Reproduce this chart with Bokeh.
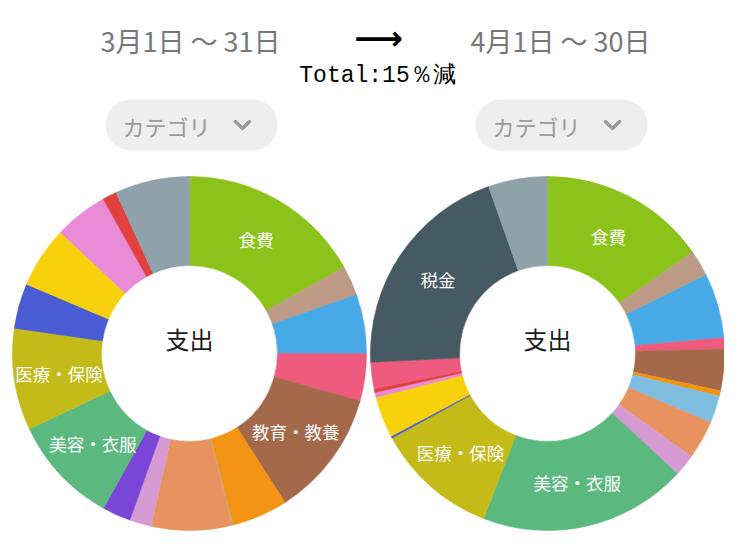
import math
from bokeh.plotting import figure
from bokeh.models import Range1d, ColumnDataSource, BoxAnnotation
from bokeh.core.properties import value
from bokeh.embed import file_html
from bokeh.resources import INLINE

# ---------------- data (shares in %, clockwise from 12 o'clock) ----------------
march_names = ["食費", "日用雑貨", "交通", "交際費", "教育・教養", "エンタメ", "通信",
               "水道・光熱", "住まい", "趣味", "美容・衣服", "医療・保険", "自動車",
               "子ども", "ペット", "大型出費", "その他"]
march_values = [16.9, 2.7, 5.4, 4.3, 11.6, 5.1, 0.15, 7.3, 2.0, 2.6, 9.9, 9.3, 4.1,
                5.6, 4.9, 1.3, 6.8]
march_colors = ["#8cc31a", "#bd9a85", "#47aae6", "#ee5b7f", "#a4694a", "#f39313", "#c8a86a",
                "#e8935f", "#d69ad3", "#7a46d8", "#5bb97f", "#c5bb18", "#4a5cd4",
                "#f6d10c", "#e98bd7", "#e0413f", "#8fa1a9"]

april_names = ["食費", "日用雑貨", "交通", "交際費", "教育・教養", "エンタメ", "通信",
               "水道・光熱", "住まい", "美容・衣服", "医療・保険", "自動車", "子ども",
               "ペット", "大型出費", "特別費", "税金", "その他"]
april_values = [15.3, 2.4, 5.9, 1.0, 3.8, 0.5, 2.5, 3.5, 2.0, 19.0, 11.2, 0.2, 3.75,
                0.45, 0.35, 2.4, 20.4, 5.4]
april_colors = ["#8cc31a", "#bd9a85", "#47aae6", "#ee5b7f", "#a4694a", "#f39313", "#7fbde0",
                "#e8935f", "#d69ad3", "#5bb97f", "#c5bb18", "#4a5cd4", "#f6d10c",
                "#e98bd7", "#e0413f", "#ee5b7f", "#465a64", "#8fa1a9"]

period_titles = ["3月1日 ～ 31日", "4月1日 ～ 30日"]
center_label = "支出"
button_label = "カテゴリ"
change_text = "Total:15％減"
label_threshold = 8.0  # % share above which a slice is labelled

# ---------------- layout (pixel space, y downward) ----------------
W, H = 724, 539
FONT = "Noto Sans CJK JP"


def Y(y):
    return H - y


p = figure(width=W, height=H, x_range=Range1d(0, W), y_range=Range1d(0, H),
           x_axis_type=None, y_axis_type=None, min_border=0, outline_line_color=None,
           toolbar_location=None, output_backend="svg", background_fill_color="white",
           border_fill_color="white")
p.grid.visible = False

centers = [(189, 353), (547, 353)]
R_OUT, R_IN, R_LAB = 177, 88, 132


def draw_donut(cx, cy, names, vals, cols):
    total = sum(vals)
    b0 = 0.0
    xs, ys, st, en, cl = [], [], [], [], []
    lx, ly, lt = [], [], []
    for n, v, c in zip(names, vals, cols):
        b1 = b0 + v / total * 360.0
        xs.append(cx); ys.append(Y(cy))
        st.append(math.radians(90 - b1)); en.append(math.radians(90 - b0))
        cl.append(c)
        if v / total * 100 >= label_threshold:
            m = math.radians((b0 + b1) / 2)
            lx.append(cx + R_LAB * math.sin(m))
            ly.append(Y(cy - R_LAB * math.cos(m)))
            lt.append(n)
        b0 = b1
    src = ColumnDataSource(dict(x=xs, y=ys, s=st, e=en, c=cl))
    p.annular_wedge(x="x", y="y", inner_radius=R_IN, outer_radius=R_OUT,
                    start_angle="s", end_angle="e", fill_color="c", line_color="c",
                    line_width=0.6, source=src)
    p.text(x=lx, y=ly, text=lt, text_align="center", text_baseline="middle",
           text_font=value(FONT), text_font_size="17.5px", text_color="#fbfbfb")
    p.text(x=[cx], y=[Y(cy - 15)], text=[center_label], text_align="center",
           text_baseline="middle", text_font=value(FONT), text_font_size="24px",
           text_color="#1a1a1a")


draw_donut(*centers[0], march_names, march_values, march_colors)
draw_donut(*centers[1], april_names, april_values, april_colors)

# titles
p.text(x=[190, 560], y=[Y(40), Y(40)], text=period_titles, text_align="center",
       text_baseline="middle", text_font=value(FONT), text_font_size="27px",
       text_color="#777777")
p.text(x=[378], y=[Y(37)], text=["⟶"], text_align="center", text_baseline="middle",
       text_font=value("DejaVu Sans"), text_font_size="34px", text_font_style="bold",
       text_color="#000000")
p.text(x=[377], y=[Y(75)], text=[change_text], text_align="center", text_baseline="middle",
       text_font=value("Liberation Mono"), text_font_size="23px", text_color="#000000")

# category pills
for (pl, pr) in [(105, 277), (475, 647)]:
    p.add_layout(BoxAnnotation(left=pl, right=pr, top=Y(99), bottom=Y(150),
                               fill_color="#eeeeee", fill_alpha=1.0, line_color=None,
                               border_radius=25, level="underlay"))
    p.text(x=[pl + 61], y=[Y(125)], text=[button_label], text_align="center",
           text_baseline="middle", text_font=value(FONT), text_font_size="22px",
           text_color="#9a9a9a")
    chx = pl + 137
    p.line(x=[chx - 7, chx, chx + 7], y=[Y(121), Y(128), Y(121)], line_color="#9a9a9a",
           line_width=3.5, line_cap="round", line_join="round")

open("out.html", "w").write(file_html(p, INLINE))
